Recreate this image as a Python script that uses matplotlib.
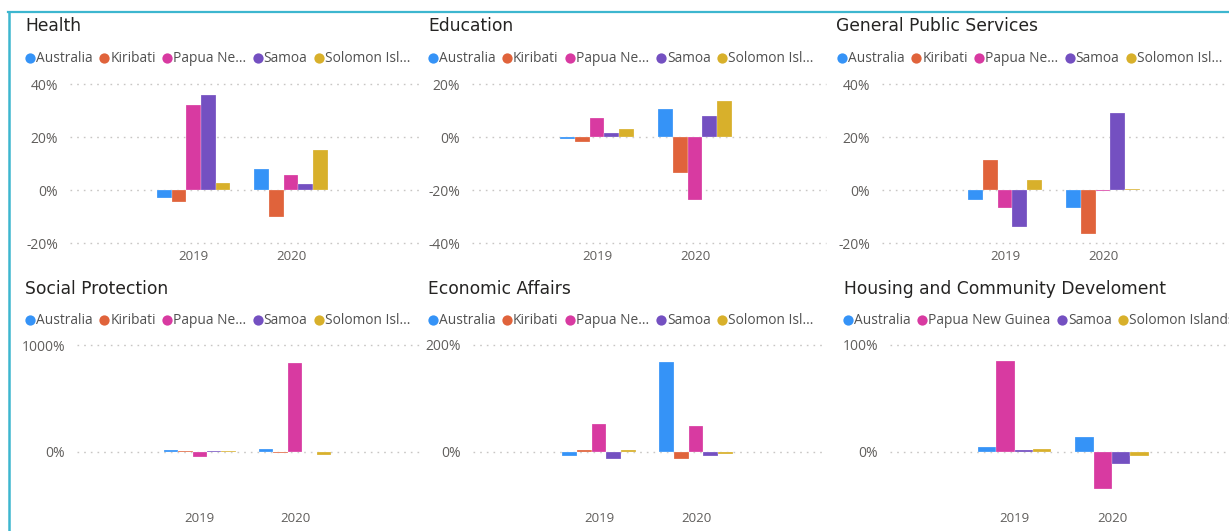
import matplotlib
matplotlib.use("Agg")
import matplotlib.pyplot as plt
from matplotlib.lines import Line2D

YEARS = ["2019", "2020"]

COUNTRIES = ["Australia", "Kiribati", "Papua New Guinea", "Samoa", "Solomon Islands"]
COUNTRY_COLORS = {
    "Australia": "#3593F7",
    "Kiribati": "#E0633B",
    "Papua New Guinea": "#D83AA1",
    "Samoa": "#7450C1",
    "Solomon Islands": "#D8B02B",
}

# % change in expenditure, one list per country: [2019, 2020]
health = {
    "Australia": [-2.8, 8.0],
    "Kiribati": [-4.6, -10.1],
    "Papua New Guinea": [32.0, 5.6],
    "Samoa": [35.9, 2.2],
    "Solomon Islands": [2.8, 15.2],
}
education = {
    "Australia": [-0.6, 10.5],
    "Kiribati": [-1.9, -13.7],
    "Papua New Guinea": [7.2, -23.8],
    "Samoa": [1.6, 8.0],
    "Solomon Islands": [2.9, 13.5],
}
general_public = {
    "Australia": [-3.8, -6.6],
    "Kiribati": [11.4, -16.5],
    "Papua New Guinea": [-6.6, -0.4],
    "Samoa": [-14.0, 29.1],
    "Solomon Islands": [3.9, 0.5],
}
social_protection = {
    "Australia": [12, 25],
    "Kiribati": [10, -16],
    "Papua New Guinea": [-53, 828],
    "Samoa": [10, -6],
    "Solomon Islands": [10, -28],
}
economic_affairs = {
    "Australia": [-8, 168],
    "Kiribati": [3, -14],
    "Papua New Guinea": [51, 49],
    "Samoa": [-13, -8],
    "Solomon Islands": [2.5, -4],
}
housing = {
    "Australia": [4.7, 14.0],
    "Papua New Guinea": [85.0, -35.3],
    "Samoa": [1.5, -11.3],
    "Solomon Islands": [2.8, -3.8],
}

# panel: (title, data, y ticks, truncated legend labels)
PANELS = [
    ("Health", health, [-20, 0, 20, 40], True),
    ("Education", education, [-40, -20, 0, 20], True),
    ("General Public Services", general_public, [-20, 0, 20, 40], True),
    ("Social Protection", social_protection, [0, 1000], True),
    ("Economic Affairs", economic_affairs, [0, 200], True),
    ("Housing and Community Develoment", housing, [0, 100], False),
]

SHORT_NAMES = {"Papua New Guinea": "Papua Ne...", "Solomon Islands": "Solomon Isl..."}

# pixel layout: title x, legend x, axes left, axes right, centre of 2019, centre of 2020
LAYOUT = [
    (25, 25, 70, 422, 193.7, 291.0),
    (428, 428, 472, 826, 597.0, 695.0),
    (836, 837, 882, 1229, 1005.0, 1103.0),
    (25, 25, 77, 422, 199.8, 295.0),
    (428, 428, 473, 826, 599.0, 696.0),
    (844, 843, 890, 1229, 1014.7, 1112.0),
]
# row: title y, legend y, top gridline y, zero y (None = use ticks), axes bottom y
ROWS = [(26, 58, 84, None, 243.3), (289, 320, 345, 451.7, 505)]

W, H = 1229, 531
TITLE_COLOR = "#252423"
LABEL_COLOR = "#605E5C"
FRAME_COLOR = "#3DB6CF"

fig = plt.figure(figsize=(W / 100, H / 100), dpi=100)
renderer = fig.canvas.get_renderer()


def fx(px):
    return px / W


def fy(py):
    return 1 - py / H


# cyan frame
fig.add_artist(Line2D([fx(7.5), 1], [fy(12), fy(12)], color=FRAME_COLOR, lw=1.6))
fig.add_artist(Line2D([fx(8.5), fx(8.5)], [fy(12), 0], color=FRAME_COLOR, lw=1.8))

for i, (title, data, yticks, truncate) in enumerate(PANELS):
    tx, lx, left, right, c0, c1 = LAYOUT[i]
    title_y, legend_y, top_y, zero_y, bottom_y = ROWS[i // 3]

    fig.text(fx(tx), fy(title_y), title, fontsize=12.3, color=TITLE_COLOR,
             family="DejaVu Sans", va="center", ha="left")

    # legend row
    x = lx
    for name in data:
        fig.add_artist(Line2D([fx(x + 5)], [fy(legend_y)], marker="o", ms=7.4,
                              color=COUNTRY_COLORS[name], mec="none"))
        label = SHORT_NAMES.get(name, name) if truncate else name
        t = fig.text(fx(x + 11), fy(legend_y), label, fontsize=9.9, color="#505050",
                     family="Open Sans", va="center", ha="left")
        bb = t.get_window_extent(renderer)
        x = bb.x1 + 6.5

    # y limits from pixel positions
    ytop = yticks[-1]
    if zero_y is None:
        ybot = yticks[0]
    else:
        ybot = -(bottom_y - zero_y) / (zero_y - top_y) * ytop

    spacing = c1 - c0
    ax = fig.add_axes([fx(left), fy(bottom_y), (right - left) / W, (bottom_y - top_y) / H])
    ax.set_xlim((left - c0) / spacing, (right - c0) / spacing)
    ax.set_ylim(ybot, ytop)

    n = len(data)
    width = 0.755 / n
    for j, name in enumerate(data):
        offsets = [k + (j - (n - 1) / 2) * width for k in range(len(YEARS))]
        ax.bar(offsets, data[name], width=width, color=COUNTRY_COLORS[name],
               edgecolor="#FFFFFF99", linewidth=0.3, zorder=3)

    ax.set_yticks(yticks)
    ax.set_yticklabels([f"{v}%" for v in yticks])
    ax.set_xticks(range(len(YEARS)))
    ax.set_xticklabels(YEARS)
    ax.tick_params(axis="both", length=0, labelcolor=LABEL_COLOR)
    ax.tick_params(axis="y", pad=8.5, labelsize=10)
    ax.tick_params(axis="x", pad=5, labelsize=9.5)
    for lab in ax.get_xticklabels() + ax.get_yticklabels():
        lab.set_family("Open Sans")
    ax.grid(axis="y", color="#C8C6C4", linestyle=(0, (1.2, 3.6)), linewidth=1.0, zorder=0)
    for gl in ax.get_ygridlines():
        gl.set_clip_on(False)
    for spine in ax.spines.values():
        spine.set_visible(False)
    ax.set_facecolor("none")

fig.savefig("out.png", dpi=100)
